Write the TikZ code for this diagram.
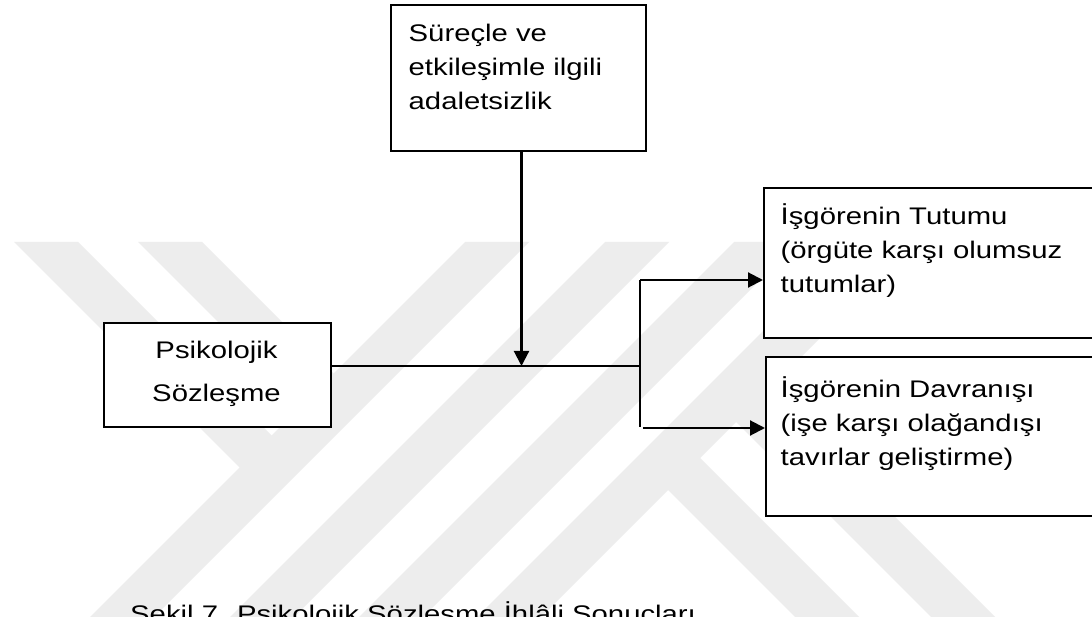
\documentclass[tikz,border=0pt]{standalone}
\usepackage{fontspec}
\setmainfont{Liberation Sans}[FakeStretch=1.22]
\usetikzlibrary{arrows.meta}
\begin{document}
\begin{tikzpicture}[x=1pt,y=-1pt,
  box/.style={draw=black, line width=2.1pt, fill=white, rectangle, inner sep=0pt, anchor=north west},
  txt/.style={inner sep=0pt, anchor=base west, font=\fontsize{24pt}{34pt}\selectfont},
  ctxt/.style={inner sep=0pt, anchor=base, font=\fontsize{24pt}{34pt}\selectfont},
  link/.style={line width=2.1pt},
  arrow/.style={link, -{Triangle[length=15pt,width=15pt]}},
  wm/.style={fill=black!7}]

\clip (0,0) rectangle (1092,617);
\fill[white] (0,0) rectangle (1092,617);

% faint background emblem: four long rising stripes with short falling strokes
\begin{scope}
  \clip (0,242) rectangle (1092,617);
  \fill[wm] (465,242) -- (529,242) -- (154,617) -- (90,617) -- cycle;
  \fill[wm] (605,242) -- (669,242) -- (294,617) -- (230,617) -- cycle;
  \fill[wm] (734,242) -- (798,242) -- (423,617) -- (359,617) -- cycle;
  \fill[wm] (852,242) -- (916,242) -- (541,617) -- (477,617) -- cycle;
  \fill[wm] (14,242) -- (78,242) -- (288,452) -- (256,484) -- cycle;
  \fill[wm] (138,242) -- (202,242) -- (350,390) -- (318,422) -- cycle;
  \fill[wm] (649,471) -- (681,439) -- (859,617) -- (795,617) -- cycle;
  \fill[wm] (717,403) -- (749,371) -- (995,617) -- (931,617) -- cycle;
\end{scope}

% boxes
\node[box, minimum width=255pt, minimum height=146pt] (proc) at (390,4) {};
\node[box, minimum width=227pt, minimum height=104pt] (psi) at (103,322) {};
\node[box, minimum width=340pt, minimum height=150pt] (tut) at (763,187) {};
\node[box, minimum width=340pt, minimum height=159pt] (dav) at (765,356) {};

% box texts
\node[txt] (proc1) at (408.5,42) {Süreçle ve};
\node[txt] (proc2) at (408.5,76) {etkileşimle ilgili};
\node[txt] (proc3) at (408.5,110) {adaletsizlik};

\node[ctxt] (psi1) at (216.5,359) {Psikolojik};
\node[ctxt] (psi2) at (216.5,402) {Sözleşme};

\node[txt] (tut1) at (780.5,225) {İşgörenin Tutumu};
\node[txt] (tut2) at (780.5,259) {(örgüte karşı olumsuz};
\node[txt] (tut3) at (780.5,293) {tutumlar)};

\node[txt] (dav1) at (780.5,397) {İşgörenin Davranışı};
\node[txt] (dav2) at (780.5,431) {(işe karşı olağandışı};
\node[txt] (dav3) at (780.5,465) {tavırlar geliştirme)};

% caption, running past the lower edge
\node[txt] (cap) at (130,622) {Şekil 7. Psikolojik Sözleşme İhlâli Sonuçları};

% junctions
\coordinate (mid) at (521.5,366);
\coordinate (fork) at (640,366);
\coordinate (forkTop) at (640,280);
\coordinate (forkBot) at (640,427);
\coordinate (lowStart) at (643,428);

% connectors
\draw[link] (psi.east |- fork) -- (fork);
\draw[arrow] (proc.south -| mid) -- (mid);
\draw[link] (forkTop) -- (forkBot);
\draw[arrow] (forkTop) -- (forkTop -| tut.west);
\draw[arrow] (lowStart) -- (lowStart -| dav.west);
\end{tikzpicture}
\end{document}
